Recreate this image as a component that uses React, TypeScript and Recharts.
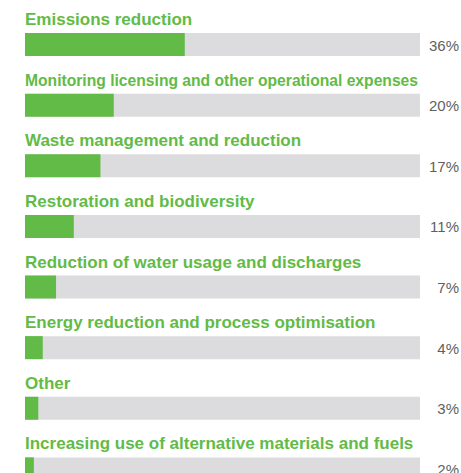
import { BarChart, Bar, XAxis, YAxis, LabelList } from 'recharts';

const categories = [
  'Emissions reduction',
  'Monitoring licensing and other operational expenses',
  'Waste management and reduction',
  'Restoration and biodiversity',
  'Reduction of water usage and discharges',
  'Energy reduction and process optimisation',
  'Other',
  'Increasing use of alternative materials and fuels',
];

const shares = [36, 20, 17, 11, 7, 4, 3, 2];

const GREEN = '#62bb46';
const TRACK = '#dcdcde';
const FONT = '"Liberation Sans", Arial, Helvetica, sans-serif';
const WIDTH = 461;
const MARGIN = { top: 14, right: 41, bottom: 0, left: 25 };
const TRACK_WIDTH = WIDTH - MARGIN.left - MARGIN.right;
const NAME_SIZE = 17;

const data = categories.map((name, i) => ({ name, value: shares[i], pct: `${shares[i]}%` }));

// measure label so long names can be squeezed to the track width
let ctx: CanvasRenderingContext2D | null = null;
const measure = (s: string) => {
  if (!ctx) ctx = document.createElement('canvas').getContext('2d');
  if (!ctx) return 0;
  ctx.font = `bold ${NAME_SIZE}px ${FONT}`;
  return ctx.measureText(s).width;
};

const NameLabel = (props: any) => {
  const { x, y, value } = props;
  const w = measure(String(value));
  const fit = w > TRACK_WIDTH ? { textLength: TRACK_WIDTH - 2, lengthAdjust: 'spacingAndGlyphs' } : {};
  return (
    <text
      x={x}
      y={y - 8}
      fill={GREEN}
      fontFamily={FONT}
      fontWeight={700}
      fontSize={NAME_SIZE}
      {...fit}
    >
      {value}
    </text>
  );
};

const PctLabel = (props: any) => {
  const { y, height, value } = props;
  return (
    <text
      x={WIDTH - 2}
      y={y + height / 2 + 6}
      textAnchor="end"
      fill="#5f5f5f"
      fontFamily={FONT}
      fontSize={15}
    >
      {value}
    </text>
  );
};

export default function App() {
  return (
    <div style={{ position: 'absolute', left: 0, top: 0 }}>
      <BarChart width={WIDTH} height={499} data={data} layout="vertical" margin={MARGIN}>
        <XAxis type="number" domain={[0, 89]} hide />
        <YAxis type="category" dataKey="name" hide />
        <Bar
          dataKey="value"
          fill={GREEN}
          barSize={23}
          background={{ fill: TRACK }}
          isAnimationActive={false}
        >
          <LabelList dataKey="name" content={NameLabel} />
          <LabelList dataKey="pct" content={PctLabel} />
        </Bar>
      </BarChart>
    </div>
  );
}
